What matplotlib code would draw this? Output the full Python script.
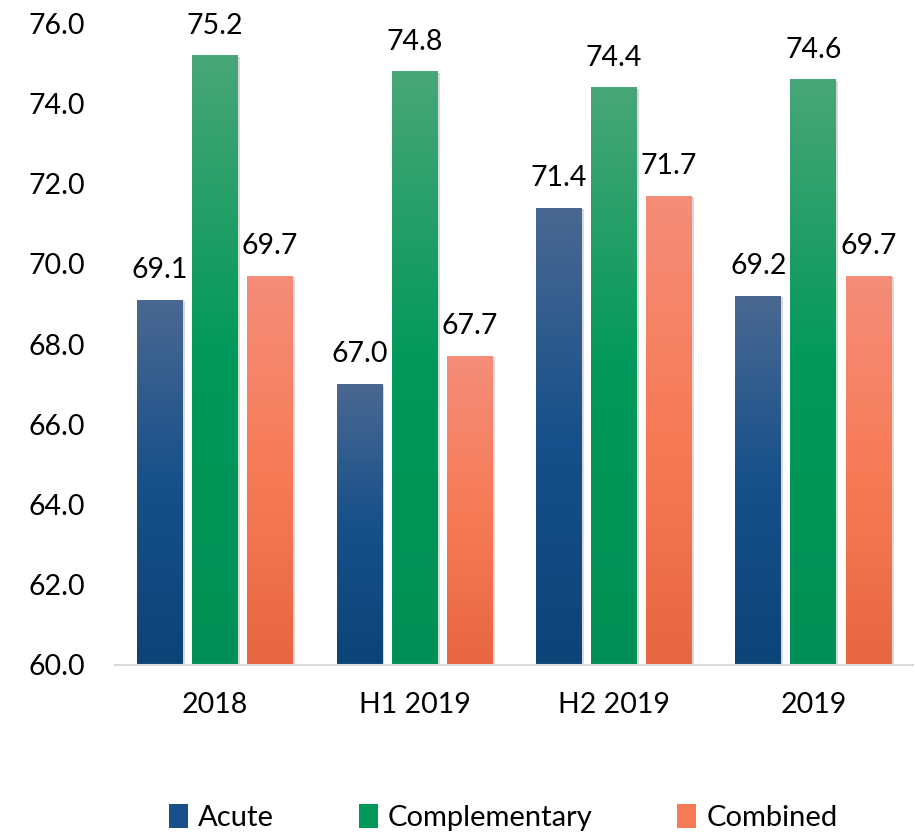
import numpy as np
import matplotlib.pyplot as plt
from matplotlib.colors import LinearSegmentedColormap
from matplotlib.patches import Patch
import matplotlib.patheffects as pe

plt.rcParams['font.family'] = ['Lato', 'DejaVu Sans']

categories = ["2018", "H1 2019", "H2 2019", "2019"]
series = ["Acute", "Complementary", "Combined"]
acute = [69.1, 67.0, 71.4, 69.2]
complementary = [75.2, 74.8, 74.4, 74.6]
combined = [69.7, 67.7, 71.7, 69.7]

# top, middle, bottom colours of each gradient
gradients = {
    "Acute": ["#4a6891", "#17508a", "#0c4478"],
    "Complementary": ["#48a677", "#00985a", "#009057"],
    "Combined": ["#f48d79", "#f77b57", "#e86642"],
}

fig = plt.figure(figsize=(9.15, 8.34), dpi=100)
ax = fig.add_axes([0.126, 0.203, 0.872, 0.769])

ymin, ymax = 60, 76
width = 0.23
step = 0.276
x = np.arange(len(categories))
fs = 20.5

for k, (name, vals) in enumerate(zip(series, [acute, complementary, combined])):
    cmap = LinearSegmentedColormap.from_list(name, gradients[name][::-1])
    grad = np.linspace(0, 1, 256).reshape(-1, 1)
    bars = ax.bar(x + (k - 1) * step, [v - ymin for v in vals], width, bottom=ymin,
                  color=gradients[name][1], zorder=2,
                  path_effects=[pe.SimplePatchShadow(offset=(1.5, -1), shadow_rgbFace='#000000', alpha=0.15), pe.Normal()])
    for b, v in zip(bars, vals):
        x0, y0 = b.get_x(), b.get_y()
        im = ax.imshow(grad, cmap=cmap, aspect='auto', origin='lower',
                       extent=[x0, x0 + b.get_width(), y0, y0 + b.get_height()],
                       vmin=0, vmax=1, zorder=3)
        im.set_clip_path(b)
        ax.text(b.get_x() + b.get_width() / 2, v + 0.42, "%.1f" % v,
                ha='center', va='bottom', fontsize=fs)

ax.set_xlim(-0.5, len(categories) - 0.5)
ax.set_ylim(ymin, ymax)
ax.set_yticks(np.arange(60, 77, 2))
ax.set_yticklabels(["%.1f" % t for t in np.arange(60, 77, 2)])
ax.set_xticks(x)
ax.set_xticklabels(categories)
ax.tick_params(axis='both', length=0, labelsize=fs)
ax.tick_params(axis='x', pad=20)
ax.tick_params(axis='y', pad=22)
for s in ['top', 'right', 'left']:
    ax.spines[s].set_visible(False)
ax.spines['bottom'].set_color('#d9d9d9')
ax.spines['bottom'].set_linewidth(1.5)
ax.spines['bottom'].set_zorder(4)

handles = [Patch(facecolor=gradients[n][1]) for n in series]
fig.legend(handles, series, loc='center', bbox_to_anchor=(0.55, 0.02), ncol=3,
           frameon=False, fontsize=21, handlelength=0.65, handleheight=0.9,
           handletextpad=0.35, columnspacing=2.9)

fig.savefig("out.png", dpi=100)
